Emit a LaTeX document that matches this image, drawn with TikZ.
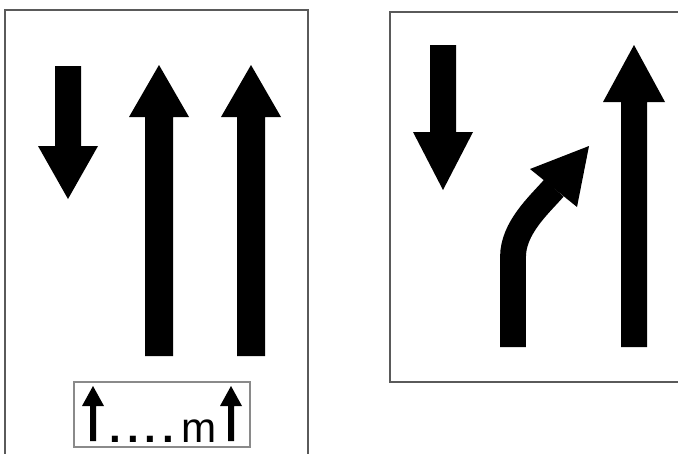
\documentclass[tikz,border=0pt]{standalone}
\usepackage{fontspec}
\setmainfont{Liberation Sans}
\definecolor{Frame}{HTML}{5A5A5A}
\definecolor{PlaqueLine}{HTML}{8A8A8A}

\begin{document}
\begin{tikzpicture}[x=0.02cm,y=-0.02cm,
    signpanel/.style={draw=Frame,line width=1.1pt,fill=white},
    plaque/.style={draw=PlaqueLine,line width=0.9pt},
    lanemark/.style={fill=black},
    bendmark/.style={draw=black,line width=14.7pt}
  ]
    \clip (0,0) rectangle (678,453);
    \fill[white] (0,0) rectangle (678,453);

    % left sign: one lane down, two lanes up
    \draw[signpanel] (5,10) rectangle (308,462);
    \fill[lanemark] (55,66) -- (55,146) -- (38,146) -- (68,199) -- (98,146) -- (81,146) -- (81,66) -- cycle;
    \foreach \cx in {159,251}
      \fill[lanemark] (\cx-14,356) -- (\cx-14,117) -- (\cx-30,117) -- (\cx,65)
        -- (\cx+30,117) -- (\cx+14,117) -- (\cx+14,356) -- cycle;

    % distance plaque
    \draw[plaque] (74,382) rectangle (250,447);
    \foreach \cx in {93,231}
      \fill[lanemark] (\cx-3,441) -- (\cx-3,406) -- (\cx-11,406) -- (\cx,386)
        -- (\cx+11,406) -- (\cx+3,406) -- (\cx+3,441) -- cycle;
    \node[anchor=base,inner sep=0pt,font=\fontsize{24}{24}\selectfont] (dist) at (163,442)
      {\textbf{.}\hspace{3.5pt}\textbf{.}\hspace{3.5pt}\textbf{.}\hspace{3.5pt}\textbf{.}\hspace{4pt}m};

    % right sign: lane added on the right
    \draw[signpanel] (390,12) rectangle (690,382);
    \fill[lanemark] (430,45) -- (430,132) -- (413,132) -- (443,190) -- (473,132) -- (456,132) -- (456,45) -- cycle;
    \fill[lanemark] (621,347) -- (621,102) -- (603,102) -- (634,45)
      -- (665,102) -- (647,102) -- (647,347) -- cycle;
    \draw[bendmark] (513,347) -- (513,257) .. controls (513,228) and (539,205) .. (554,188);
    \fill[lanemark] (530,169) -- (589,146) -- (577,207) -- cycle;
  \end{tikzpicture}
\end{document}
